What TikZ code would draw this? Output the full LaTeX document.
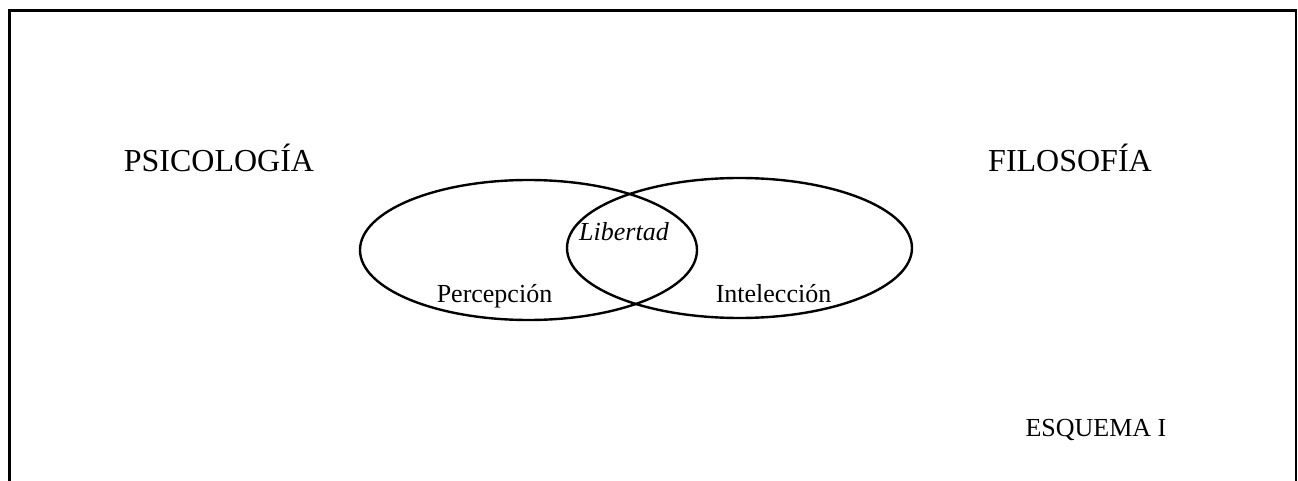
\documentclass[tikz,border=0pt]{standalone}
\usepackage{fontspec}
\setmainfont{Liberation Serif}
\usetikzlibrary{shapes.geometric, positioning}

\tikzset{
    circulo/.style={draw, ellipse, line width=1.2pt, inner sep=0pt},
    titulo/.style={font=\fontsize{16}{18}\selectfont},
    etiqueta/.style={font=\fontsize{13}{15}\selectfont}
}

\begin{document}
\begin{tikzpicture}[x=0.5pt, y=-0.5pt]
                    \useasboundingbox (0,0) rectangle (1298,481);
                    \draw [line width=1.3pt] (9.5,481) -- (9.5,10.5) -- (1296,10.5) -- (1296,481);

                    \node (perc) [circulo, minimum width=168.5pt, minimum height=70pt] at (528.5,250) {};
                    \node (intel) [circulo, minimum width=172.5pt, minimum height=70pt] at (739.5,248) {};

                    \node (psico) [titulo, anchor=base] at (219,172) {PSICOLOGÍA};
                    \node (filo) [titulo, anchor=base] at (1070,172) {FILOSOFÍA};
                    \node (percepcion) [etiqueta, anchor=base] at (494.5,302) {Percepción};
                    \node (inteleccion) [etiqueta, anchor=base] at (773.5,302) {Intelección};
                    \node (libertad) [etiqueta, anchor=base] at (624,241) {\itshape Libertad};
                    \node (esquema) [etiqueta, anchor=base] at (1096,437) {ESQUEMA I};
                \end{tikzpicture}
\end{document}
